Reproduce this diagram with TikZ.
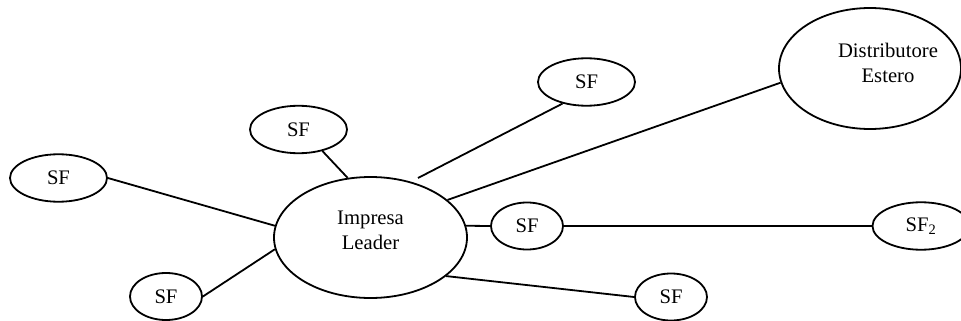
\documentclass[tikz,border=0pt]{standalone}
\usepackage{fontspec}
\setmainfont{Liberation Serif}
\usetikzlibrary{shapes.geometric}

\begin{document}
\begin{tikzpicture}[x=0.75pt,y=-0.75pt,line width=1.35pt,
  every node/.style={font=\fontsize{15.5}{18.5}\selectfont,align=center},
  oval/.style={ellipse,draw,inner sep=0pt},
  sfwide/.style={oval,minimum width=72.75pt,minimum height=35.6pt},
  sfnarrow/.style={oval,minimum width=54pt,minimum height=35.25pt},
  bigoval/.style={oval,minimum width=144.75pt,minimum height=90.75pt}]
  \useasboundingbox (0,0) rectangle (961,321);
  \node[bigoval,text depth=10.5pt] (leader) at (370.5,237.5) {Impresa\\Leader};
  \node[bigoval,minimum width=136.5pt] (dist) at (870,68.5) {};
  \node (distname) at (888,63) {Distributore\\Estero};
  \node[sfwide] (sfL) at (58.5,178) {SF};
  \node[sfwide] (sfTL) at (298.5,129.5) {SF};
  \node[sfwide] (sfTM) at (586.5,82) {SF};
  \node[sfnarrow] (sfBL) at (166,296.5) {SF};
  \node[sfnarrow] (sfM) at (527,226) {SF};
  \node[sfnarrow] (sfB) at (671,297) {SF};
  \node[sfwide] (sf2) at (921,226) {SF\textsubscript{2}};
  % the line to the upper SF stops short of the leader oval
  \coordinate (gap) at (418,178);
  \draw (sfL.east) -- (leader.173);
  \draw (sfBL.east) -- (leader.187);
  \draw (sfTL.-42) -- (leader.111);
  \draw (gap) -- (sfTM.-138);
  \draw (leader.26) -- (dist.189);
  \draw (leader.7) -- (sfM.west);
  \draw (sfM.east) -- (sf2.west);
  \draw (leader.-27) -- (sfB.west);
\end{tikzpicture}
\end{document}
